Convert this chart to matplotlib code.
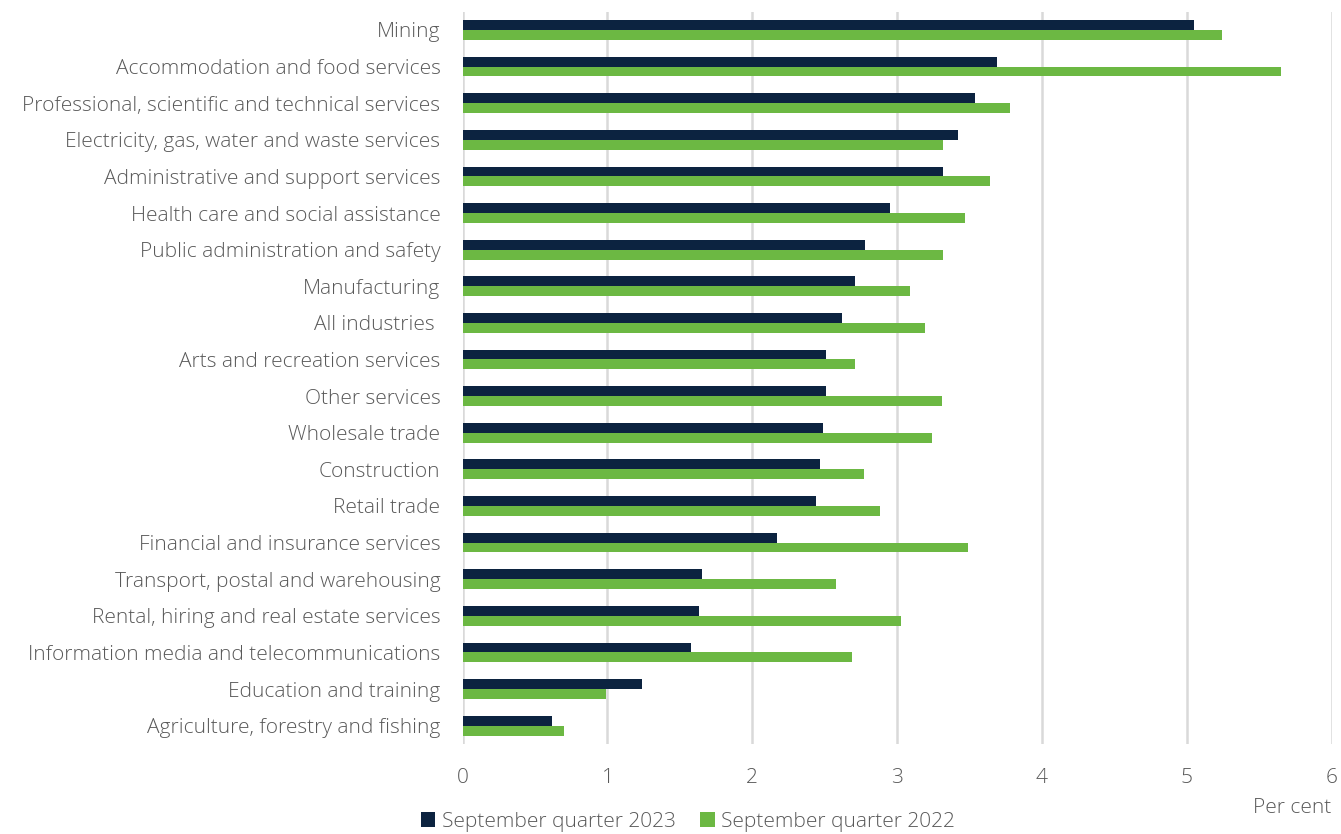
import matplotlib
matplotlib.use("Agg")
import matplotlib.pyplot as plt
import numpy as np

industries = [
    "Mining",
    "Accommodation and food services",
    "Professional, scientific and technical services",
    "Electricity, gas, water and waste services",
    "Administrative and support services",
    "Health care and social assistance",
    "Public administration and safety",
    "Manufacturing",
    "All industries ",
    "Arts and recreation services",
    "Other services",
    "Wholesale trade",
    "Construction",
    "Retail trade",
    "Financial and insurance services",
    "Transport, postal and warehousing",
    "Rental, hiring and real estate services",
    "Information media and telecommunications",
    "Education and training",
    "Agriculture, forestry and fishing",
]
sep_2023 = [5.05, 3.69, 3.54, 3.42, 3.32, 2.95, 2.78, 2.71, 2.62, 2.51,
            2.51, 2.49, 2.47, 2.44, 2.17, 1.65, 1.63, 1.58, 1.24, 0.62]
sep_2022 = [5.24, 5.65, 3.78, 3.32, 3.64, 3.47, 3.32, 3.09, 3.19, 2.71,
            3.31, 3.24, 2.77, 2.88, 3.49, 2.58, 3.03, 2.69, 0.99, 0.70]

plt.rcParams['font.family'] = ['Open Sans', 'DejaVu Sans']
text_col = '#595959'
fs = 15

fig = plt.figure(figsize=(13.41, 8.34), dpi=100)
ax = fig.add_axes([0.345, 0.108, 0.648, 0.878])

y = np.arange(len(industries))
h = 0.27
ax.barh(y - h / 2, sep_2023, height=h, color='#0c2340', label='September quarter 2023', zorder=3)
ax.barh(y + h / 2, sep_2022, height=h, color='#6cb843', label='September quarter 2022', zorder=3)

ax.set_ylim(len(industries) - 0.5, -0.5)
ax.set_xlim(0, 6)
ax.set_yticks(y)
ax.set_yticklabels(industries, fontsize=fs, color=text_col, fontweight='light')
ax.set_xticks(range(7))
ax.set_xticklabels([str(i) for i in range(7)], fontsize=fs, color=text_col, fontweight='light')
ax.tick_params(axis='y', length=0, pad=16)
ax.tick_params(axis='x', length=0, pad=17)
ax.grid(axis='x', color='#d9d9d9', linewidth=1.8, zorder=0)
for s in ax.spines.values():
    s.set_visible(False)

fig.text(0.9925, 1 - 808 / 834, 'Per cent', ha='right', va='center', fontsize=fs,
         color=text_col, fontweight='light')

fig.legend(loc='center', bbox_to_anchor=(0.513, 1 - 822 / 834), ncol=2, frameon=False,
           handlelength=0.7, handleheight=0.7, handletextpad=0.3,
           columnspacing=1.2, labelcolor=text_col, prop={'weight': 'light', 'size': fs})

fig.savefig('out.png', dpi=100)
